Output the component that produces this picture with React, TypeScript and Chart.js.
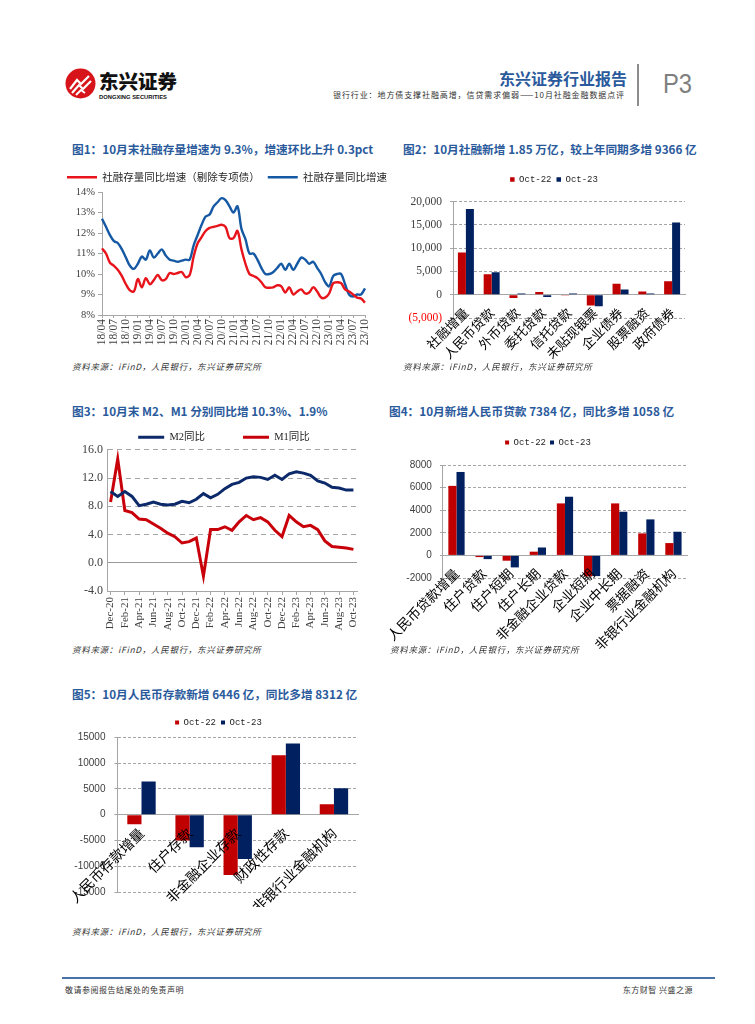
import React, { useEffect, useRef } from 'react';
import { Chart, registerables } from 'chart.js';

Chart.register(...registerables);

// ---------- Chart 1 data ----------
const tsfMonths = [
  '18/04','18/05','18/06','18/07','18/08','18/09','18/10','18/11','18/12',
  '19/01','19/02','19/03','19/04','19/05','19/06','19/07','19/08','19/09','19/10','19/11','19/12',
  '20/01','20/02','20/03','20/04','20/05','20/06','20/07','20/08','20/09','20/10','20/11','20/12',
  '21/01','21/02','21/03','21/04','21/05','21/06','21/07','21/08','21/09','21/10','21/11','21/12',
  '22/01','22/02','22/03','22/04','22/05','22/06','22/07','22/08','22/09','22/10','22/11','22/12',
  '23/01','23/02','23/03','23/04','23/05','23/06','23/07','23/08','23/09','23/10',
];
const tsfGrowthExSpecialBond = [
  11.25, 11.0, 10.55, 10.4, 10.2, 9.9, 9.5, 9.2, 9.15,
  9.75, 9.35, 9.8, 9.5, 9.7, 9.95, 9.7, 9.75, 10.05, 10.0, 10.05, 10.1,
  9.85, 9.95, 10.85, 11.5, 11.8, 12.1, 12.25, 12.3, 12.35, 12.4, 12.3, 11.75,
  11.75, 12.1, 11.2, 10.5, 10.0, 9.9, 9.8, 9.6, 9.35, 9.33, 9.35, 9.45,
  9.4, 9.1, 9.35, 9.0, 9.15, 9.25, 9.05, 9.1, 9.35, 9.15, 8.85, 8.85,
  9.05, 9.55, 9.6, 9.55, 9.25, 9.15, 9.0, 8.85, 8.8, 8.6,
];
const tsfGrowth = [
  12.7, 12.3, 11.9, 11.6, 11.5, 11.2, 10.8, 10.4, 10.25,
  10.5, 10.85, 10.7, 11.15, 10.8, 11.0, 11.2, 10.9, 10.7, 10.65, 10.6, 10.65,
  10.7, 10.7, 11.4, 11.9, 12.4, 12.8, 12.9, 13.3, 13.5, 13.7, 13.6, 13.3,
  13.0, 13.3, 12.2, 11.7, 11.0, 11.0, 10.7, 10.3, 10.0, 10.0, 10.1, 10.3,
  10.5, 10.2, 10.5, 10.2, 10.5, 10.8, 10.7, 10.5, 10.6, 10.3, 10.0, 9.6,
  9.4, 9.9, 10.0, 10.0, 9.5, 9.0, 8.9, 9.0, 9.0, 9.3,
];

// ---------- Chart 2 data ----------
const tsfCategories = ['社融增量', '人民币贷款', '外币贷款', '委托贷款', '信托贷款', '未贴现银票', '企业债券', '股票融资', '政府债券'];
const tsfOct22 = [9079, 4431, -720, 580, -60, -2300, 2380, 700, 2880];
const tsfOct23 = [18445, 4837, 280, -500, 250, -2500, 1150, 290, 15540];

// ---------- Chart 3 data ----------
const mMonths = [
  'Dec-20',
  'Jan-21','Feb-21','Mar-21','Apr-21','May-21','Jun-21','Jul-21','Aug-21','Sep-21','Oct-21','Nov-21','Dec-21',
  'Jan-22','Feb-22','Mar-22','Apr-22','May-22','Jun-22','Jul-22','Aug-22','Sep-22','Oct-22','Nov-22','Dec-22',
  'Jan-23','Feb-23','Mar-23','Apr-23','May-23','Jun-23','Jul-23','Aug-23','Sep-23','Oct-23',
];
const m2Yoy = [10.1, 9.4, 10.1, 9.4, 8.1, 8.3, 8.6, 8.3, 8.2, 8.3, 8.7, 8.5, 9.0, 9.8, 9.2, 9.7, 10.5, 11.1, 11.4, 12.0, 12.2, 12.1, 11.8, 12.4, 11.8, 12.6, 12.9, 12.7, 12.4, 11.6, 11.3, 10.7, 10.6, 10.3, 10.3];
const m1Yoy = [8.6, 14.7, 7.4, 7.1, 6.2, 6.1, 5.5, 4.9, 4.2, 3.7, 2.8, 3.0, 3.5, -1.9, 4.7, 4.7, 5.1, 4.6, 5.8, 6.7, 6.1, 6.4, 5.8, 4.6, 3.7, 6.7, 5.8, 5.1, 5.3, 4.7, 3.1, 2.3, 2.2, 2.1, 1.9];

// ---------- Chart 4 data ----------
const loanCategories = ['人民币贷款增量', '住户贷款', '住户短期', '住户长期', '非金融企业贷款', '企业短期', '企业中长期', '票据融资', '非银行业金融机构'];
const loanOct22 = [6152, -150, -470, 330, 4602, -1860, 4602, 1947, 1091];
const loanOct23 = [7384, -330, -1062, 700, 5192, -1830, 3864, 3186, 2094];

// ---------- Chart 5 data ----------
const depositCategories = ['人民币存款增量', '住户存款', '非金融企业存款', '财政性存款', '非银行业金融机构'];
const depositOct22 = [-1866, -5000, -11700, 11500, 2000];
const depositOct23 = [6446, -6300, -8600, 13800, 5100];

const seriesNames = ['Oct-22', 'Oct-23'];

// ---------- styles ----------
const CJK = "'Noto Sans CJK SC', sans-serif";
const SERIF = "'Liberation Serif', 'Noto Sans CJK SC', serif";
const SANS = "'Liberation Sans', Arial, sans-serif";
const MONO = "'Liberation Mono', monospace";
const RED = '#c00000';
const NAVY = '#002060';
const AXIS = '#a6a6a6';
const GRID = '#a6a6a6';
const TICK = '#404040';
const TITLE_BLUE = '#2a5a9c';

const legendGap = (extra: number) => ({
  id: 'legendGap',
  beforeInit(chart: any) {
    if (!chart.legend) return;
    const orig = chart.legend.fit;
    chart.legend.fit = function () {
      orig.call(this);
      this.height += extra;
    };
  },
});

const hiddenRight = (w: number) => ({
  position: 'right',
  display: true,
  grid: { display: false },
  border: { display: false },
  ticks: { display: false },
  afterFit: (s: any) => {
    s.width = w;
  },
});

const flatLegend = (kind: 'line' | 'bar') => (chart: any) =>
  chart.data.datasets.map((ds: any, i: number) => ({
    text: ds.label,
    fillStyle: kind === 'line' ? ds.borderColor : ds.backgroundColor,
    strokeStyle: kind === 'line' ? ds.borderColor : ds.backgroundColor,
    lineWidth: 0,
    hidden: false,
    datasetIndex: i,
    fontColor: '#262626',
  }));

const fmtThousands = (n: number) => Math.round(n).toLocaleString('en-US');

function config1() {
  return {
    type: 'line',
    data: {
      labels: tsfMonths,
      datasets: [
        { label: '社融存量同比增速（剔除专项债）', data: tsfGrowthExSpecialBond, borderColor: '#e8141c', backgroundColor: '#e8141c', borderWidth: 2.4, pointRadius: 0, tension: 0.35, yAxisID: 'y' },
        { label: '社融存量同比增速', data: tsfGrowth, borderColor: '#1558a3', backgroundColor: '#1558a3', borderWidth: 2.4, pointRadius: 0, tension: 0.35, yAxisID: 'y' },
      ],
    },
    options: {
      animation: false,
      responsive: false,
      events: [],
      layout: { padding: 0 },
      plugins: {
        legend: {
          align: 'start',
          labels: { boxWidth: 30, boxHeight: 2.5, padding: 8, color: '#262626', font: { family: CJK, size: 10.5 }, generateLabels: flatLegend('line') },
        },
        tooltip: { enabled: false },
      },
      scales: {
        x: {
          ticks: {
            autoSkip: false, minRotation: 90, maxRotation: 90, padding: 1, color: TICK,
            font: { family: SERIF, size: 11.5 },
            callback: (_v: any, i: number) => (i % 3 === 0 ? tsfMonths[i] : null),
          },
          grid: { drawOnChartArea: false, tickLength: 3, color: AXIS },
          border: { color: AXIS },
          afterFit: (s: any) => { s.height = 40; },
        },
        y: {
          min: 8, max: 14,
          ticks: { stepSize: 1, padding: 3, color: TICK, font: { family: SERIF, size: 10.5 }, callback: (v: number) => v + '%' },
          grid: { drawOnChartArea: false, tickLength: 4, color: AXIS },
          border: { color: AXIS },
          afterFit: (s: any) => { s.width = 43; },
        },
        y2: hiddenRight(35),
      },
    },
    plugins: [legendGap(-0.5)],
  };
}

function barConfig(opts: {
  labels: string[]; a: number[]; b: number[]; min: number; max: number; step: number;
  tickFont: any; tickCb: (v: number) => string; tickColor: any; yWidth: number; rightW: number;
  cp: number; labelSize: number; tickPad: number; boxW: number; pad: number; gap: number; bottom: number;
}) {
  return {
    type: 'bar',
    data: {
      labels: opts.labels,
      datasets: [
        { label: seriesNames[0], data: opts.a, backgroundColor: RED, borderWidth: 0, categoryPercentage: opts.cp, barPercentage: 1, yAxisID: 'y' },
        { label: seriesNames[1], data: opts.b, backgroundColor: NAVY, borderWidth: 0, categoryPercentage: opts.cp, barPercentage: 1, yAxisID: 'y' },
      ],
    },
    options: {
      animation: false,
      responsive: false,
      events: [],
      layout: { padding: { left: 0, right: 0, top: 0, bottom: opts.bottom } },
      plugins: {
        legend: {
          labels: { boxWidth: opts.boxW, boxHeight: opts.boxW, padding: opts.pad, color: '#262626', font: { family: MONO, size: 9 }, generateLabels: flatLegend('bar') },
        },
        tooltip: { enabled: false },
      },
      scales: {
        x: {
          position: { y: 0 },
          grid: { display: false },
          border: { display: true, color: AXIS },
          ticks: { z: 1, autoSkip: false, minRotation: 45, maxRotation: 45, padding: 2, color: '#000', font: { family: CJK, size: opts.labelSize } },
        },
        y: {
          min: opts.min, max: opts.max,
          ticks: { stepSize: opts.step, padding: opts.tickPad, color: opts.tickColor, font: opts.tickFont, callback: opts.tickCb },
          grid: { color: GRID, tickLength: 3, tickColor: AXIS },
          border: { color: AXIS, dash: [3, 2] },
          afterFit: (s: any) => { s.width = opts.yWidth; },
        },
        y2: hiddenRight(opts.rightW),
      },
    },
    plugins: [legendGap(opts.gap)],
  };
}

function config2() {
  return barConfig({
    labels: tsfCategories, a: tsfOct22, b: tsfOct23, min: -5000, max: 20000, step: 5000,
    tickFont: { family: SERIF, size: 11.5 },
    tickCb: (v: number) => (v < 0 ? '(' + fmtThousands(-v) + ')' : fmtThousands(v)),
    tickColor: (c: any) => (c.tick && c.tick.value < 0 ? '#ff0000' : TICK),
    yWidth: 58, rightW: 28, cp: 0.62, labelSize: 13, tickPad: 8, boxW: 4.5, pad: 5, gap: 7.7, bottom: 45,
  });
}

function config4() {
  return barConfig({
    labels: loanCategories, a: loanOct22, b: loanOct23, min: -2000, max: 8000, step: 2000,
    tickFont: { family: SANS, size: 10 },
    tickCb: (v: number) => String(v),
    tickColor: TICK,
    yWidth: 48, rightW: 24, cp: 0.6, labelSize: 13.5, tickPad: 8, boxW: 4, pad: 4, gap: 8, bottom: 84,
  });
}

function config5() {
  return barConfig({
    labels: depositCategories, a: depositOct22, b: depositOct23, min: -15000, max: 15000, step: 5000,
    tickFont: { family: SANS, size: 10 },
    tickCb: (v: number) => String(v),
    tickColor: TICK,
    yWidth: 52, rightW: 14, cp: 0.59, labelSize: 14, tickPad: 9, boxW: 4, pad: 5, gap: 0.3, bottom: 8,
  });
}

function config3() {
  return {
    type: 'line',
    data: {
      labels: mMonths,
      datasets: [
        { label: 'M2同比', data: m2Yoy, borderColor: '#0c2a6a', backgroundColor: '#0c2a6a', borderWidth: 3, pointRadius: 0, tension: 0, yAxisID: 'y' },
        { label: 'M1同比', data: m1Yoy, borderColor: '#c8000a', backgroundColor: '#c8000a', borderWidth: 3, pointRadius: 0, tension: 0, yAxisID: 'y' },
      ],
    },
    options: {
      animation: false,
      responsive: false,
      events: [],
      layout: { padding: 0 },
      plugins: {
        legend: {
          labels: { boxWidth: 26, boxHeight: 3, padding: 38, color: '#262626', font: { family: SERIF, size: 10.5 }, generateLabels: flatLegend('line') },
        },
        tooltip: { enabled: false },
      },
      scales: {
        x: {
          offset: true,
          ticks: {
            autoSkip: false, minRotation: 90, maxRotation: 90, padding: 2, color: TICK,
            font: { family: SERIF, size: 11 },
            callback: (_v: any, i: number) => (i % 2 === 0 ? mMonths[i] : null),
          },
          grid: { drawOnChartArea: false, tickLength: 4, color: AXIS, offset: false },
          border: { color: AXIS },
          afterFit: (s: any) => { s.height = 48; },
        },
        y: {
          min: -4, max: 16,
          ticks: { stepSize: 4, padding: 4, color: TICK, font: { family: SERIF, size: 12 }, callback: (v: number) => v.toFixed(1) },
          grid: { drawTicks: false, color: (c: any) => (c.tick && c.tick.value === 0 ? '#999999' : GRID) },
          border: { color: AXIS, dash: (c: any) => (c.tick && c.tick.value === 0 ? [] : [5, 4]) },
          afterFit: (s: any) => { s.width = 45; },
        },
        y2: hiddenRight(29),
      },
    },
    plugins: [legendGap(-2.65)],
  };
}

function ChartBox({ left, top, width, height, build }: { left: number; top: number; width: number; height: number; build: () => any }) {
  const ref = useRef<HTMLCanvasElement>(null);
  useEffect(() => {
    if (!ref.current) return;
    const chart = new Chart(ref.current, build());
    return () => chart.destroy();
  }, []);
  return (
    <canvas
      ref={ref}
      width={width}
      height={height}
      style={{ position: 'absolute', left, top, width, height, display: 'block' }}
    />
  );
}

const titleStyle = (left: number, top: number): React.CSSProperties => ({
  position: 'absolute', left, top, fontFamily: CJK, fontWeight: 700, fontSize: 11.7,
  lineHeight: '16px', color: TITLE_BLUE, whiteSpace: 'nowrap',
});
const sourceStyle = (left: number, top: number): React.CSSProperties => ({
  position: 'absolute', left, top, fontFamily: CJK, fontStyle: 'italic', fontSize: 8.5,
  letterSpacing: 0.7, lineHeight: '10px', color: '#333', whiteSpace: 'nowrap',
});

const SOURCE = '资料来源：iFinD，人民银行，东兴证券研究所';

export default function App() {
  return (
    <div style={{ position: 'absolute', left: 0, top: 0, width: 755, height: 1024, background: '#fff', overflow: 'hidden' }}>
      {/* header */}
      <svg style={{ position: 'absolute', left: 65, top: 68 }} width={31} height={31} viewBox="0 0 31 31">
        <circle cx={15.5} cy={15.5} r={15} fill="#d7141a" />
        <path d="M5 21 L12 12 L16 16 L24 8" stroke="#fff" strokeWidth={2.2} fill="none" />
        <path d="M7 25 L14 17 L18 21 L26 13" stroke="#fff" strokeWidth={2.2} fill="none" />
        <path d="M11 27 L16 22 L20 25" stroke="#fff" strokeWidth={2} fill="none" />
      </svg>
      <div style={{ position: 'absolute', left: 99, top: 70, fontFamily: CJK, fontWeight: 900, fontSize: 19.5, lineHeight: '22px', color: '#111', whiteSpace: 'nowrap' }}>东兴证券</div>
      <div style={{ position: 'absolute', left: 99, top: 94, fontFamily: SANS, fontWeight: 700, fontSize: 5.8, lineHeight: '7px', color: '#111', whiteSpace: 'nowrap' }}>DONGXING SECURITIES</div>
      <div style={{ position: 'absolute', right: 128, top: 69, fontFamily: CJK, fontWeight: 700, fontSize: 16, lineHeight: '18px', color: TITLE_BLUE, whiteSpace: 'nowrap' }}>东兴证券行业报告</div>
      <div style={{ position: 'absolute', right: 130, top: 90, fontFamily: CJK, fontSize: 8, letterSpacing: 0.9, lineHeight: '10px', color: '#333', whiteSpace: 'nowrap' }}>银行行业：地方债支撑社融高增，信贷需求偏弱——10月社融金融数据点评</div>
      <div style={{ position: 'absolute', left: 637, top: 64, width: 1.5, height: 42, background: '#8c8c8c' }} />
      <div style={{ position: 'absolute', left: 663, top: 69, fontFamily: SANS, fontSize: 28, lineHeight: '30px', color: '#7f7f7f', transform: 'scaleX(0.85)', transformOrigin: 'left center' }}>P3</div>

      {/* titles */}
      <div style={titleStyle(72, 141)}>图1：10月末社融存量增速为 9.3%，增速环比上升 0.3pct</div>
      <div style={titleStyle(403, 141)}>图2：10月社融新增 1.85 万亿，较上年同期多增 9366 亿</div>
      <div style={titleStyle(72, 403)}>图3：10月末 M2、M1 分别同比增 10.3%、1.9%</div>
      <div style={titleStyle(389, 403)}>图4：10月新增人民币贷款 7384 亿，同比多增 1058 亿</div>
      <div style={titleStyle(72, 686)}>图5：10月人民币存款新增 6446 亿，同比多增 8312 亿</div>

      {/* charts */}
      <ChartBox left={59} top={164} width={341} height={191} build={config1} />
      <ChartBox left={395} top={170} width={318} height={193} build={config2} />
      <ChartBox left={62} top={394} width={324} height={245} build={config3} />
      <ChartBox left={385} top={434} width={326} height={228} build={config4} />
      <ChartBox left={65} top={713} width={307} height={194} build={config5} />

      {/* sources */}
      <div style={sourceStyle(72, 361)}>{SOURCE}</div>
      <div style={sourceStyle(403, 361)}>{SOURCE}</div>
      <div style={sourceStyle(72, 644)}>{SOURCE}</div>
      <div style={sourceStyle(390, 644)}>{SOURCE}</div>
      <div style={sourceStyle(72, 926)}>{SOURCE}</div>

      {/* footer */}
      <div style={{ position: 'absolute', left: 62, top: 977, width: 653, height: 1.5, background: '#4a72a8' }} />
      <div style={{ position: 'absolute', left: 65, top: 985, fontFamily: CJK, fontSize: 8, letterSpacing: 0.5, lineHeight: '10px', color: '#333', whiteSpace: 'nowrap' }}>敬请参阅报告结尾处的免责声明</div>
      <div style={{ position: 'absolute', right: 62, top: 985, fontFamily: CJK, fontSize: 8, letterSpacing: 0.5, lineHeight: '10px', color: '#333', whiteSpace: 'nowrap' }}>东方财智 兴盛之源</div>
    </div>
  );
}
